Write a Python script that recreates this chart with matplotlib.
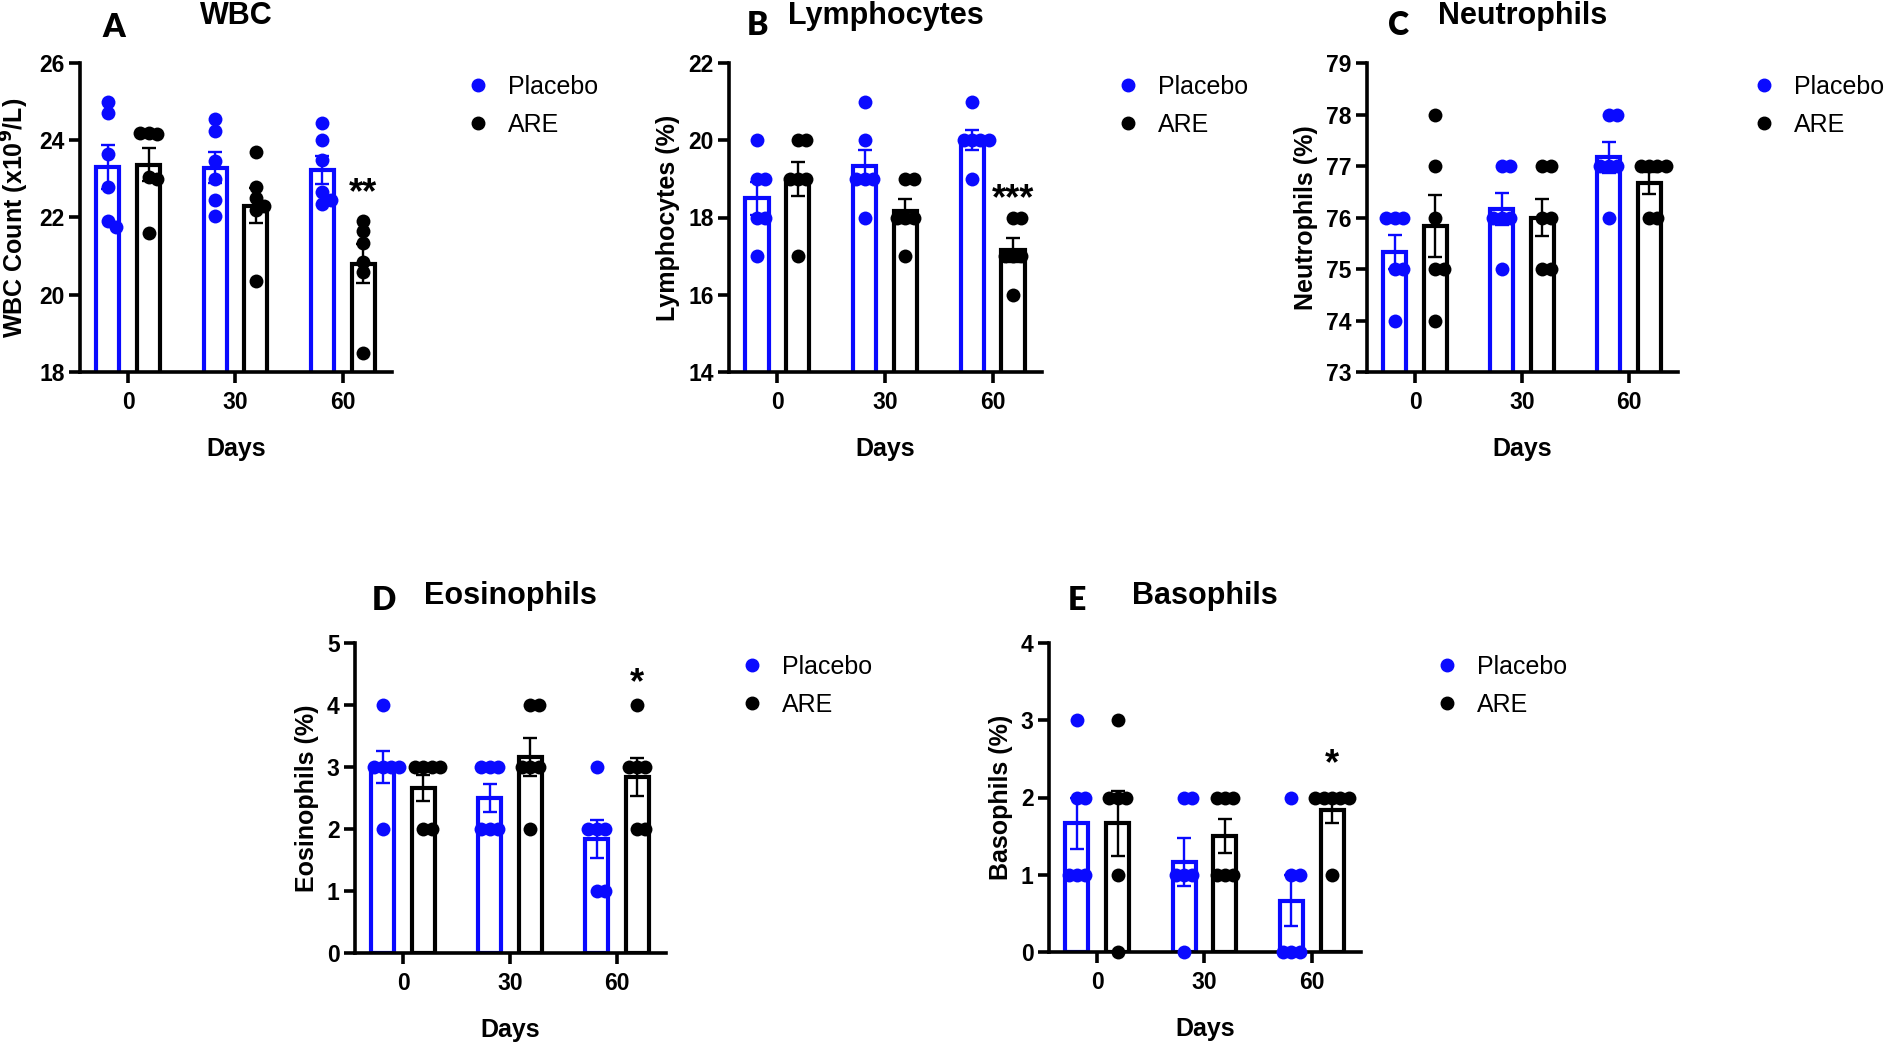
import numpy as np
import matplotlib
matplotlib.use('Agg')
import matplotlib.pyplot as plt
from matplotlib.lines import Line2D

plt.rcParams['font.family'] = ['Liberation Sans', 'DejaVu Sans']

W, H = 1892, 1046
BLUE = '#0a0aff'
BLACK = '#000000'

days = ['0', '30', '60']
groups = ['Placebo', 'ARE']

# values, one list per day (6 animals each)
wbc_placebo = [[25.0, 24.7, 23.65, 22.8, 21.9, 21.75],
               [24.55, 24.25, 23.45, 23.0, 22.45, 22.05],
               [24.45, 24.0, 23.5, 22.65, 22.45, 22.35]]
wbc_are = [[24.2, 24.15, 24.2, 23.05, 23.0, 21.6],
           [23.7, 22.8, 22.5, 22.3, 22.2, 20.35],
           [21.9, 21.65, 21.35, 20.85, 20.6, 18.5]]

lym_placebo = [[20, 19, 19, 18, 18, 17], [21, 20, 19, 19, 19, 18], [21, 20, 20, 20, 20, 19]]
lym_are = [[20, 20, 19, 19, 19, 17], [19, 19, 18, 18, 18, 17], [18, 18, 17, 17, 17, 16]]

neu_placebo = [[76, 76, 76, 75, 75, 74], [77, 77, 76, 76, 76, 75], [78, 78, 77, 77, 77, 76]]
neu_are = [[78, 77, 76, 75, 75, 74], [77, 77, 76, 76, 75, 75], [77, 77, 77, 77, 76, 76]]

eos_placebo = [[4, 3, 3, 3, 3, 2], [3, 3, 3, 2, 2, 2], [3, 2, 2, 2, 1, 1]]
eos_are = [[3, 3, 3, 3, 2, 2], [4, 4, 3, 3, 3, 2], [4, 3, 3, 3, 2, 2]]

bas_placebo = [[3, 2, 2, 1, 1, 1], [2, 2, 1, 1, 1, 0], [2, 1, 1, 0, 0, 0]]
bas_are = [[3, 2, 2, 2, 1, 0], [2, 2, 2, 1, 1, 1], [2, 2, 2, 2, 2, 1]]

# significance marks (text, y position) on the ARE bar at day 60
wbc_sig = ('**', 22.9)
lym_sig = ('***', 18.75)
eos_sig = ('*', 4.52)
bas_sig = ('*', 2.57)

# box = (left, right, top, bottom) in pixels
panels = [
    dict(letter='A', title='WBC', ylabel='WBC Count (x10$^{\\mathbf{9}}$/L)',
         placebo=wbc_placebo, are=wbc_are, ylim=(18, 26), yticks=[18, 20, 22, 24, 26],
         sig=wbc_sig, box=(80, 392, 63, 372), letter_xy=(102, 37)),
    dict(letter='B', title='Lymphocytes', ylabel='Lymphocytes (%)',
         placebo=lym_placebo, are=lym_are, ylim=(14, 22), yticks=[14, 16, 18, 20, 22],
         sig=lym_sig, box=(729, 1042, 63, 372), letter_xy=(747, 35)),
    dict(letter='C', title='Neutrophils', ylabel='Neutrophils (%)',
         placebo=neu_placebo, are=neu_are, ylim=(73, 79), yticks=[73, 74, 75, 76, 77, 78, 79],
         sig=None, box=(1367, 1678, 63, 372), letter_xy=(1388, 35)),
    dict(letter='D', title='Eosinophils', ylabel='Eosinophils (%)',
         placebo=eos_placebo, are=eos_are, ylim=(0, 5), yticks=[0, 1, 2, 3, 4, 5],
         sig=eos_sig, box=(355, 666, 643, 953), letter_xy=(372, 610)),
    dict(letter='E', title='Basophils', ylabel='Basophils (%)',
         placebo=bas_placebo, are=bas_are, ylim=(0, 4), yticks=[0, 1, 2, 3, 4],
         sig=bas_sig, box=(1049, 1361, 643, 952), letter_xy=(1068, 610)),
]

XLIM = (-0.45, 2.46)
OFF = 0.19
BW = 0.215
MS = 10   # marker size in points
DPX = MS * 100 / 72.0
TICK_FS = 16.5
LAB_FS = 18
LEG_FS = 18


def swarm_x(vals, center, ppx, ppy):
    # spread overlapping dots sideways, a bit like Prism does
    step = 0.6 * DPX
    placed = []
    xs = []
    for v in vals:
        py = v * ppy
        cands = [0]
        for i in range(1, 10):
            cands += [i, -i]
        for c in cands:
            px = c * step
            if all(np.hypot(px - qx, py - qy) >= step * 0.98 for qx, qy in placed):
                break
        placed.append((px, py))
        xs.append(center + px / ppx)
    return xs


fig = plt.figure(figsize=(W / 100, H / 100), dpi=100)

for p in panels:
    l, r, t, b = p['box']
    ax = fig.add_axes([l / W, 1 - b / H, (r - l) / W, (b - t) / H])
    ax.set_xlim(*XLIM)
    ax.set_ylim(*p['ylim'])
    ppx = (r - l) / (XLIM[1] - XLIM[0])
    ppy = (b - t) / (p['ylim'][1] - p['ylim'][0])

    for gi, (data, col) in enumerate([(p['placebo'], BLUE), (p['are'], BLACK)]):
        xc = np.arange(3) + (-OFF if gi == 0 else OFF)
        means = [np.mean(d) for d in data]
        sems = [np.std(d, ddof=1) / np.sqrt(len(d)) for d in data]
        ax.bar(xc, means, width=BW, color='white', edgecolor=col, linewidth=3.0,
               zorder=2, bottom=0)
        for i, d in enumerate(data):
            xs = swarm_x(d, xc[i], ppx, ppy)
            ax.plot(xs, d, 'o', color=col, markersize=MS, markeredgewidth=0,
                    zorder=3, clip_on=False)
        ax.errorbar(xc, means, yerr=sems, fmt='none', ecolor=col, elinewidth=1.7,
                    capsize=5, capthick=1.7, zorder=4)

    if p['sig'] is not None:
        txt, yv = p['sig']
        ax.annotate(txt, xy=(2 + OFF, yv), xytext=(0, -15), textcoords='offset points',
                    ha='center', va='baseline', fontsize=26, fontweight='bold')

    ax.set_xticks(range(3))
    ax.set_xticklabels(days)
    ax.set_yticks(p['yticks'])
    for s in ['top', 'right']:
        ax.spines[s].set_visible(False)
    for s in ['left', 'bottom']:
        ax.spines[s].set_linewidth(2.6)
    ax.tick_params(axis='both', direction='out', length=8, width=2.6, labelsize=TICK_FS)
    ax.tick_params(axis='x', pad=6)
    ax.tick_params(axis='y', pad=3)
    for lab in ax.get_xticklabels() + ax.get_yticklabels():
        lab.set_fontweight('bold')

    ax.set_xlabel('Days', fontsize=LAB_FS, fontweight='bold', labelpad=16)
    ax.set_ylabel(p['ylabel'], fontsize=LAB_FS, fontweight='bold', labelpad=6)
    ax.set_title(p['title'], fontsize=22, fontweight='bold', pad=28)

    fig.text(p['letter_xy'][0] / W, 1 - p['letter_xy'][1] / H, p['letter'],
             fontsize=23, fontweight='heavy', family=['Lato', 'DejaVu Sans'],
             ha='left', va='baseline')

    # legend sits 86 px right of the axis end, rows 42 px apart
    handles = [Line2D([], [], ls='none', marker='o', color=BLUE, markersize=9),
               Line2D([], [], ls='none', marker='o', color=BLACK, markersize=9)]
    lx = r + 86
    ly = t + 43
    fs_px = LEG_FS * 100 / 72
    ax.legend(handles, groups, loc='center left', frameon=False,
              bbox_to_anchor=((lx - 0.4 * fs_px) / W, 1 - ly / H),
              bbox_transform=fig.transFigure, fontsize=LEG_FS,
              handlelength=0.8, handletextpad=0.8, labelspacing=0.55,
              borderpad=0, borderaxespad=0)

fig.savefig('out.png', dpi=100)
